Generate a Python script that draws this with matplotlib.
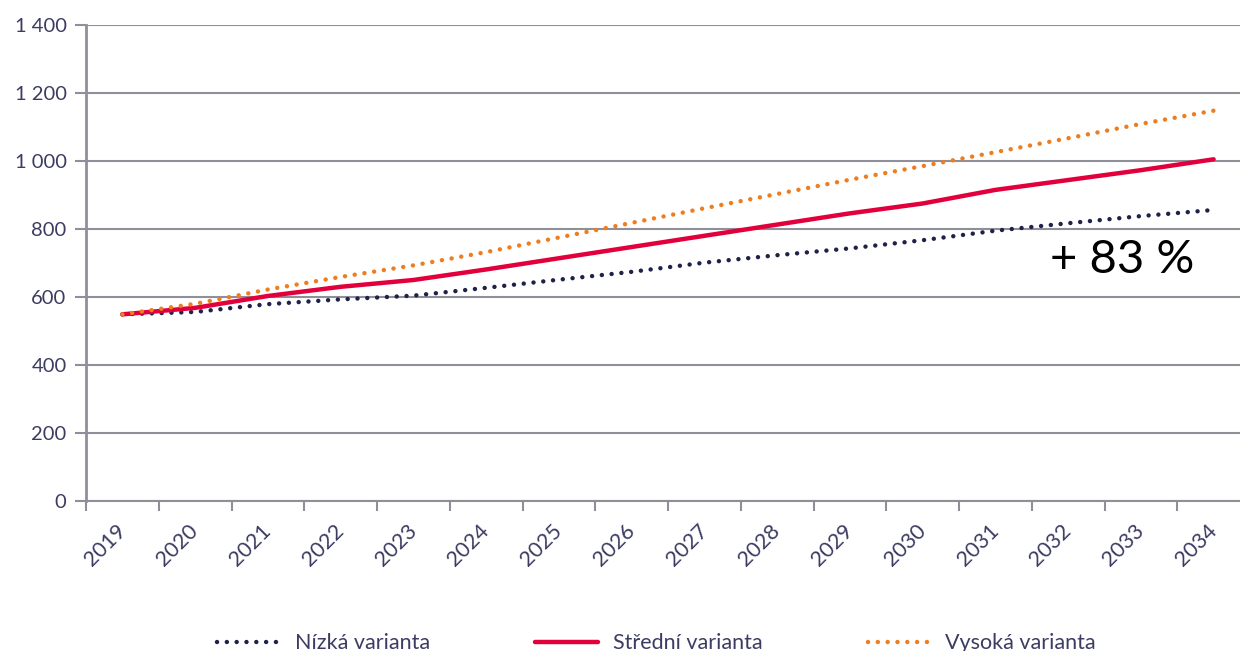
import matplotlib
matplotlib.use('Agg')
import matplotlib.pyplot as plt
import matplotlib.ticker as mticker
import numpy as np

years = ['2019', '2020', '2021', '2022', '2023', '2024', '2025', '2026',
         '2027', '2028', '2029', '2030', '2031', '2032', '2033', '2034']
low = [549, 556, 579, 593, 604, 627, 651, 674, 701, 723, 743, 767, 795, 817, 838, 856]
mid = [549, 568, 603, 630, 650, 681, 714, 747, 780, 813, 846, 875, 915, 944, 973, 1005]
high = [549, 580, 622, 659, 693, 732, 775, 818, 861, 903, 945, 985, 1026, 1067, 1109, 1148]
labels = ['Nízká varianta', 'Střední varianta', 'Vysoká varianta']
growth_text = '+ 83 %'

plt.rcParams['font.family'] = ['Lato', 'DejaVu Sans']

grid_col = '#8f8f99'
text_col = '#3c3c62'
navy = '#1f2148'
red = '#e2003c'
orange = '#ee7d1f'

fig = plt.figure(figsize=(12.4, 6.51), dpi=100)
ax = fig.add_axes([86/1240, 1 - 501/651, (1250 - 86)/1240, 476/651])

x = np.arange(len(years))
ax.plot(x, low, color=navy, lw=3.2, linestyle=(0, (0.01, 2.2)), dash_capstyle='round',
        label=labels[0], zorder=3)
ax.plot(x, mid, color=red, lw=3.2, solid_capstyle='round', label=labels[1], zorder=4)
ax.plot(x, high, color=orange, lw=3.2, linestyle=(0, (0.01, 2.2)), dash_capstyle='round',
        label=labels[2], zorder=5)

ax.set_xlim(-0.5, len(years) - 0.5)
ax.set_ylim(0, 1400)
ax.set_yticks(np.arange(0, 1401, 200))
ax.yaxis.set_major_formatter(mticker.FuncFormatter(lambda v, p: f'{int(v):,}'.replace(',', ' ')))
ax.yaxis.grid(True, color=grid_col, lw=1.5)
ax.set_axisbelow(True)

# labels at category centres, tick marks on category boundaries
ax.set_xticks(x)
ax.set_xticklabels(years, rotation=45, ha='right', va='center', rotation_mode='anchor')
ax.set_xticks(np.arange(-0.5, len(years) + 0.5, 1), minor=True)
ax.tick_params(axis='x', which='major', length=0, pad=19, labelsize=15.5, labelcolor=text_col)
ax.tick_params(axis='x', which='minor', length=7, width=1.5, color=grid_col, direction='out')
ax.tick_params(axis='y', length=8, width=1.5, color=grid_col, pad=6, labelsize=14.5,
               labelcolor=text_col)

for s in ['top', 'right']:
    ax.spines[s].set_visible(False)
ax.spines['left'].set_color(grid_col)
ax.spines['left'].set_linewidth(2)
ax.spines['bottom'].set_color(grid_col)
ax.spines['bottom'].set_linewidth(1.5)

ax.text(13.74, 709, growth_text, ha='center', va='center', fontsize=34, color='black')

leg = fig.legend(loc='center', bbox_to_anchor=(0.5295, 0.012), ncol=3, frameon=False,
                 fontsize=15.5, handlelength=2.9, handletextpad=0.7, columnspacing=4.9)
for t in leg.get_texts():
    t.set_color(text_col)

fig.savefig('out.png', dpi=100)
